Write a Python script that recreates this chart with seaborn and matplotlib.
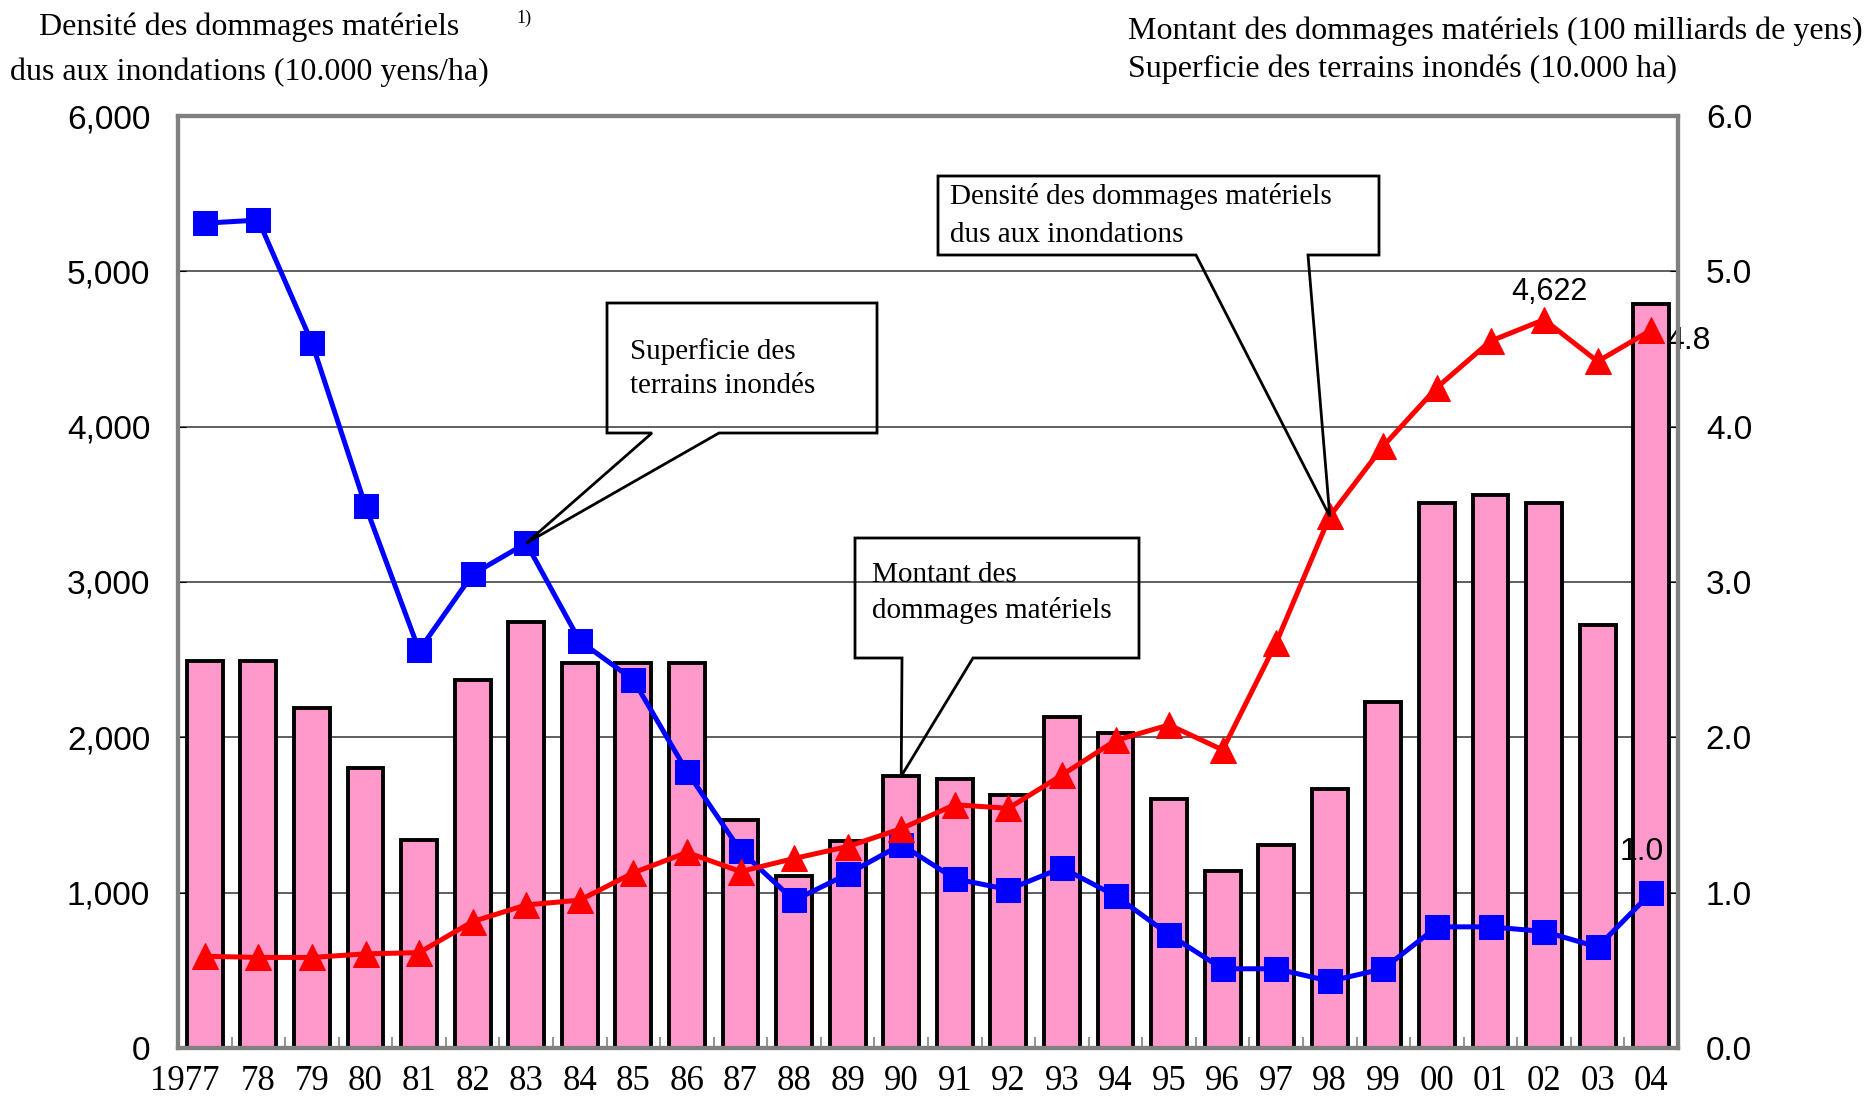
import numpy as np
import seaborn as sns
import matplotlib.pyplot as plt
import matplotlib.transforms as mtransforms
from matplotlib.patches import Polygon
from matplotlib.ticker import FuncFormatter

# Data
years = ['1977', '78', '79', '80', '81', '82', '83', '84', '85', '86', '87', '88', '89', '90',
         '91', '92', '93', '94', '95', '96', '97', '98', '99', '00', '01', '02', '03', '04']

# Montant des dommages matériels (100 milliards de yens) -> bars, right axis
montant = [2.49, 2.49, 2.19, 1.80, 1.34, 2.37, 2.74, 2.48, 2.48, 2.48, 1.47, 1.11, 1.33, 1.75,
           1.73, 1.63, 2.13, 2.03, 1.60, 1.14, 1.31, 1.67, 2.23, 3.51, 3.56, 3.51, 2.72, 4.79]

# Superficie des terrains inondés (10.000 ha) -> blue line, right axis
superficie = [5.31, 5.33, 4.54, 3.49, 2.56, 3.05, 3.25, 2.62, 2.37, 1.78, 1.27, 0.95, 1.12, 1.31,
              1.09, 1.02, 1.16, 0.98, 0.73, 0.51, 0.51, 0.43, 0.51, 0.78, 0.78, 0.75, 0.65, 1.00]

# Densité des dommages matériels (10.000 yens/ha) -> red line, left axis
densite = [591, 583, 583, 606, 614, 814, 921, 952, 1128, 1259, 1136, 1220, 1297, 1412,
           1566, 1543, 1757, 1980, 2080, 1919, 2609, 3423, 3876, 4252, 4551, 4689, 4420, 4622]

left_ticks = [0, 1000, 2000, 3000, 4000, 5000, 6000]
right_ticks = [0.0, 1.0, 2.0, 3.0, 4.0, 5.0, 6.0]

SERIF = ['Liberation Serif', 'DejaVu Serif']
SANS = ['Liberation Sans Narrow', 'Liberation Sans', 'DejaVu Sans']

W, H = 1869, 1101
fig = plt.figure(figsize=(W / 100, H / 100), dpi=100)
fig.subplots_adjust(left=178 / W, right=1678 / W, bottom=1 - 1048 / H, top=1 - 116 / H)
ax = fig.add_subplot(111)
ax2 = ax.twinx()

x = np.arange(len(years))

# bars + blue line on the 0-6 scale
sns.barplot(x=years, y=montant, color='#FF99CC', saturation=1, edgecolor='black',
            linewidth=2.8, width=0.67, ax=ax, zorder=2)
sns.lineplot(x=x, y=superficie, ax=ax, color='#0000FF', linewidth=3.6, marker='s',
             markersize=17, markeredgecolor='#0000FF', zorder=4)

# red line on the 0-6000 scale
sns.lineplot(x=x, y=densite, ax=ax2, color='#FF0000', linewidth=3.6, marker='^',
             markersize=19, markeredgecolor='#FF0000', zorder=4)

ax.set_xlim(-0.5, len(years) - 0.5)
ax.set_ylim(0, 6)
ax2.set_ylim(0, 6000)

# right axis = ax, left axis = ax2
ax.yaxis.tick_right()
ax2.yaxis.tick_left()
ax.set_yticks(right_ticks)
ax2.set_yticks(left_ticks)
ax.yaxis.set_major_formatter(FuncFormatter(lambda v, p: f'{v:.1f}'))
ax2.yaxis.set_major_formatter(FuncFormatter(lambda v, p: f'{int(v):,}'))
for a in (ax, ax2):
    a.set_xlabel('')
    a.set_ylabel('')
    a.tick_params(axis='y', direction='in', length=6, pad=20, labelsize=24)
    for lab in a.get_yticklabels():
        lab.set_family(SANS)
    for s in a.spines.values():
        s.set_color('#808080')
        s.set_linewidth(3)

ax.set_xticks(x)
ax.set_xticklabels(years, family=SERIF, fontsize=25)
ax.tick_params(axis='x', length=0, pad=12)
ax.set_xticks(np.arange(-0.5, len(years), 1), minor=True)
ax.tick_params(axis='x', which='minor', direction='in', length=8, color='#808080', width=1.2)

# the first label sits a bit to the left, as in the original
first = ax.get_xticklabels()[0]
first.set_transform(first.get_transform() +
                    mtransforms.ScaledTranslation(-0.2, 0, fig.dpi_scale_trans))

ax.yaxis.grid(True, color='#444444', linewidth=1.2)
ax.set_axisbelow(True)

# value labels
ax2.annotate(f'{densite[-1]:,}', xy=(25, densite[25]), xytext=(4, 9), textcoords='offset points',
             ha='center', va='bottom', fontsize=22, family=SANS)
ax.annotate(f'{montant[-1]:.1f}', xy=(27, montant[-1]), xytext=(11, -27), textcoords='offset points',
            ha='left', va='center', fontsize=23, family=SANS)
ax.annotate(f'{superficie[-1]:.1f}', xy=(27, superficie[-1]), xytext=(-7, 29), textcoords='offset points',
            ha='center', va='center', fontsize=23, family=SANS)


def px(xp, yp):
    return (xp / W, 1 - yp / H)


def callout(box, base, tip_axes, tip_xy, lines, text_xy, line_gap):
    # speech-bubble outline: box corners in pixels, wedge base on the bottom edge
    x0, y0, x1, y1 = box
    tx, ty = fig.transFigure.inverted().transform(tip_axes.transData.transform(tip_xy))
    verts = [px(x0, y0), px(x1, y0), px(x1, y1), px(base[1], y1), (tx, ty),
             px(base[0], y1), px(x0, y1)]
    fig.patches.append(Polygon(verts, closed=True, fill=False, edgecolor='black',
                               linewidth=2, transform=fig.transFigure, zorder=10))
    for i, t in enumerate(lines):
        fig.text(*px(text_xy[0], text_xy[1] + i * line_gap), t, ha='left', va='center',
                 fontsize=21, family=SERIF)


callout((607, 303, 877, 433), (652, 719), ax, (6, superficie[6]),
        ['Superficie des', 'terrains inondés'], (630, 352), 34)
callout((855, 538, 1139, 658), (902, 973), ax, (13, montant[13]),
        ['Montant des', 'dommages matériels'], (872, 575), 35)
callout((938, 176, 1379, 255), (1196, 1308), ax2, (21, densite[21]),
        ['Densité des dommages matériels', 'dus aux inondations'], (950, 196), 39)

# axis titles
fig.text(*px(249, 27), 'Densité des dommages matériels', ha='center', va='center',
         fontsize=23, family=SERIF)
fig.text(*px(249, 72), 'dus aux inondations (10.000 yens/ha)', ha='center', va='center',
         fontsize=23, family=SERIF)
fig.text(*px(524, 18), '1)', ha='center', va='center', fontsize=13, family=SERIF)
fig.text(*px(1128, 31), 'Montant des dommages matériels (100 milliards de yens)', ha='left',
         va='center', fontsize=23, family=SERIF)
fig.text(*px(1128, 69), 'Superficie des terrains inondés (10.000 ha)', ha='left',
         va='center', fontsize=23, family=SERIF)

fig.savefig('out.png', dpi=100)
